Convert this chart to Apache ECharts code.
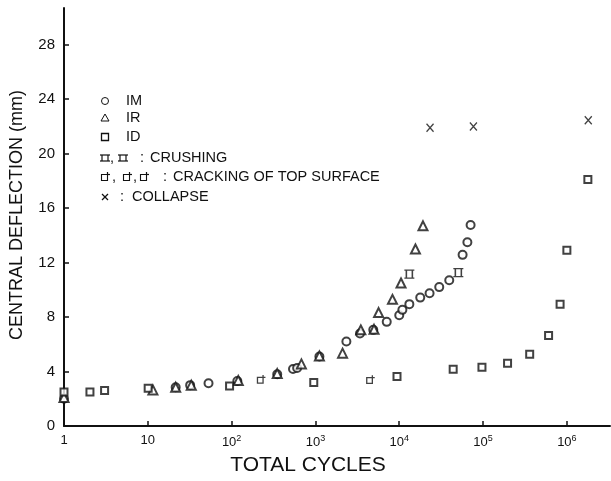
<!DOCTYPE html>
<html><head><meta charset="utf-8">
<script src="https://cdn.jsdelivr.net/npm/echarts@6/dist/echarts.min.js"></script>
<style>html,body{margin:0;padding:0;background:#fff}#c{width:611px;height:481px}</style>
</head><body><div id="c"></div>
<script>
// ---- data ----
const imX = [1, 21.5, 32, 53, 117, 350, 540, 605, 1115, 2340, 3400, 4900, 7090, 10000, 10900, 13200, 17800, 23000, 30000, 39500, 57000, 65000, 71000];
const imY = [2.0, 2.85, 3.0, 3.14, 3.3, 3.8, 4.19, 4.26, 5.1, 6.2, 6.8, 7.06, 7.65, 8.14, 8.53, 8.95, 9.43, 9.75, 10.2, 10.7, 12.57, 13.5, 14.76];
const irX = [1, 11.5, 21.5, 33, 120, 350, 680, 1115, 2107, 3480, 5000, 5670, 8300, 10500, 15600, 19200];
const irY = [2.1, 2.65, 2.85, 3.0, 3.35, 3.85, 4.56, 5.15, 5.35, 7.06, 7.1, 8.33, 9.3, 10.5, 13.0, 14.7];
const idX = [1, 2.04, 3.05, 10.1, 94.5, 955, 9400, 44000, 97000, 196000, 360000, 605000, 830000, 1000000, 1780000];
const idY = [2.5, 2.5, 2.6, 2.77, 2.94, 3.2, 3.63, 4.17, 4.32, 4.61, 5.27, 6.64, 8.95, 12.9, 18.1];
const crushX = [13200, 50700];
const crushY = [11.15, 11.27];
const crackX = [227, 4570];
const crackY = [3.45, 3.43];
const collapseX = [23300, 76700, 1800000];
const collapseY = [21.9, 22.0, 22.45];
const xTicks = [1, 10, 100, 1000, 10000, 100000, 1000000];
const yTicks = [0, 4, 8, 12, 16, 20, 24, 28];
const legendRows = ['IM', 'IR', 'ID', 'CRUSHING', 'CRACKING OF TOP SURFACE', 'COLLAPSE'];

const zip = (xs, ys) => xs.map((x, i) => [x, ys[i]]);
const FONT = '"Liberation Sans", Arial, Helvetica, sans-serif';
const crushPath = 'path://M0,2 L10,2 M0,8 L10,8 M2,2 L2,8 M8,2 L8,8';
const crackPath = 'path://M0,3 L7,3 L7,10 L0,10 Z M7,3 L7,0 M7,3 L10,3';
const xPath = 'path://M0,0 L10,10 M10,0 L0,10';

const chart = echarts.init(document.getElementById('c'), null, {renderer: 'canvas'});
const sup = ['', '', '2', '3', '4', '5', '6'];
const lx = 105;
const rowsY = [101, 118, 137, 158, 177, 197];
const LS = {stroke: '#111', lineWidth: 1.2};
const txt = (x, y, t) => ({type: 'text', x: x, y: y, style: {text: t, font: '14.5px ' + FONT, fill: '#111', verticalAlign: 'middle'}});
const ln = (x1, y1, x2, y2) => ({type: 'line', shape: {x1, y1, x2, y2}, style: LS});
const crushG = (cx, cy) => ({type: 'group', children: [
  ln(cx - 5, cy - 3, cx + 5, cy - 3), ln(cx - 5, cy + 3, cx + 5, cy + 3),
  ln(cx - 3, cy - 3, cx - 3, cy + 3), ln(cx + 3, cy - 3, cx + 3, cy + 3)]});
const crackG = (cx, cy) => ({type: 'group', children: [
  {type: 'rect', shape: {x: cx - 3.5, y: cy - 2.5, width: 6, height: 6}, style: {fill: '#fff', stroke: '#111', lineWidth: 1.1}},
  ln(cx + 2.5, cy - 2.5, cx + 2.5, cy - 5), ln(cx + 2.5, cy - 2.5, cx + 5, cy - 2.5)]});

chart.setOption({
  animation: false,
  backgroundColor: '#fff',
  grid: {left: 64, right: 1, top: 8, bottom: 55, containLabel: false},
  xAxis: {
    type: 'log', logBase: 10, min: 1, max: 3.27e6,
    splitLine: {show: false},
    axisLine: {lineStyle: {color: '#111', width: 2}},
    axisTick: {inside: true, length: 5, lineStyle: {color: '#111', width: 1.5}, customValues: xTicks},
    axisLabel: {
      customValues: xTicks, margin: 8, color: '#111', fontFamily: FONT, fontSize: 13,
      formatter: v => {
        const e = Math.round(Math.log10(v));
        if (e === 0) return '1';
        if (e === 1) return '10';
        return '10{s|' + sup[e] + '}';
      },
      rich: {s: {fontSize: 9, fontFamily: FONT, color: '#111', padding: [0, 0, 8, 0]}}
    }
  },
  yAxis: {
    type: 'value', min: 0, max: 30.7,
    splitLine: {show: false},
    axisLine: {lineStyle: {color: '#111', width: 2}},
    axisTick: {inside: true, length: 5, lineStyle: {color: '#111', width: 1.5}, customValues: yTicks},
    axisLabel: {customValues: yTicks, margin: 9, color: '#111', fontFamily: FONT, fontSize: 15}
  },
  series: [
    {name: 'IM', type: 'scatter', symbol: 'emptyCircle', symbolSize: 8, data: zip(imX, imY), itemStyle: {color: '#111', borderWidth: 1.1}},
    {name: 'IR', type: 'scatter', symbol: 'emptyTriangle', symbolSize: 9, data: zip(irX, irY), itemStyle: {color: '#111', borderWidth: 1.2}},
    {name: 'ID', type: 'scatter', symbol: 'emptyRect', symbolSize: 7, data: zip(idX, idY), itemStyle: {color: '#111', borderWidth: 1.5}},
    {name: 'crushing', type: 'scatter', symbol: crushPath, symbolSize: [10, 8], data: zip(crushX, crushY), itemStyle: {color: 'rgba(0,0,0,0)', borderColor: '#111', borderWidth: 1.4}},
    {name: 'cracking', type: 'scatter', symbol: crackPath, symbolSize: 8, data: zip(crackX, crackY), itemStyle: {color: '#fff', borderColor: '#111', borderWidth: 1.3}},
    {name: 'collapse', type: 'scatter', symbol: xPath, symbolSize: [7, 8], data: zip(collapseX, collapseY), itemStyle: {color: 'rgba(0,0,0,0)', borderColor: '#111', borderWidth: 1.4}}
  ],
  graphic: [
    {type: 'text', x: 308, y: 465, style: {text: 'TOTAL CYCLES', font: '21px ' + FONT, fill: '#111', align: 'center', verticalAlign: 'middle'}},
    {type: 'text', x: 17, y: 215, rotation: Math.PI / 2, style: {text: 'CENTRAL DEFLECTION (mm)', font: '18px ' + FONT, fill: '#111', align: 'center', verticalAlign: 'middle'}},
    {type: 'circle', shape: {cx: lx, cy: rowsY[0], r: 3.5}, style: {fill: '#fff', stroke: '#111', lineWidth: 1}},
    txt(126, rowsY[0], legendRows[0]),
    {type: 'polygon', shape: {points: [[lx, rowsY[1] - 4], [lx + 4, rowsY[1] + 3], [lx - 4, rowsY[1] + 3]]}, style: {fill: '#fff', stroke: '#111', lineWidth: 1}},
    txt(126, rowsY[1], legendRows[1]),
    {type: 'rect', shape: {x: lx - 3.5, y: rowsY[2] - 3.5, width: 7, height: 7}, style: {fill: '#fff', stroke: '#111', lineWidth: 1.3}},
    txt(126, rowsY[2], legendRows[2]),
    crushG(lx, rowsY[3]), txt(110, rowsY[3], ','), crushG(123, rowsY[3]), txt(140, rowsY[3], ':'),
    txt(150, rowsY[3], legendRows[3]),
    crackG(lx, rowsY[4]), txt(112, rowsY[4], ','), crackG(127, rowsY[4]), txt(133, rowsY[4], ','), crackG(144, rowsY[4]), txt(163, rowsY[4], ':'),
    txt(173, rowsY[4], legendRows[4]),
    ln(lx - 3, rowsY[5] - 3, lx + 3, rowsY[5] + 3), ln(lx + 3, rowsY[5] - 3, lx - 3, rowsY[5] + 3),
    txt(120, rowsY[5], ':'),
    txt(132, rowsY[5], legendRows[5])
  ]
});
</script></body></html>
